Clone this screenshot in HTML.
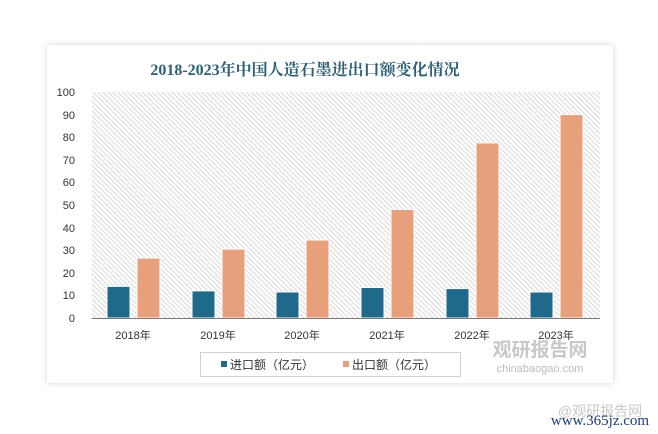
<!DOCTYPE html>
<html><head><meta charset="utf-8"><style>
html,body{margin:0;padding:0;background:#fff;}
svg{display:block;}
text{font-family:"Liberation Sans","Noto Sans CJK SC",sans-serif;}
</style></head><body>
<svg width="658" height="434" viewBox="0 0 658 434" xmlns="http://www.w3.org/2000/svg">
<defs>
<pattern id="h" width="3.5" height="3.5" patternUnits="userSpaceOnUse" patternTransform="rotate(-45)">
<rect width="3.5" height="3.5" fill="#fff"/><rect width="1.2" height="3.5" fill="#dcdcdc"/>
</pattern>
<filter id="sh" x="-5%" y="-5%" width="110%" height="110%"><feDropShadow dx="0" dy="0" stdDeviation="3" flood-color="#000" flood-opacity="0.18"/></filter>
</defs>
<rect x="47" y="45" width="566" height="338" fill="#fff" filter="url(#sh)"/>
<text x="305" y="75" text-anchor="middle" style="font-family:'Liberation Serif','Noto Serif CJK SC',serif" font-size="16" font-weight="bold" fill="#2c6079">2018-2023年中国人造石墨进出口额变化情况</text>
<rect x="92" y="92" width="508" height="226" fill="url(#h)"/>
<g font-size="11" fill="#333" text-anchor="end">
<text x="75" y="96">100</text><text x="75" y="119">90</text><text x="75" y="141">80</text><text x="75" y="164">70</text><text x="75" y="186">60</text><text x="75" y="209">50</text><text x="75" y="232">40</text><text x="75" y="254">30</text><text x="75" y="277">20</text><text x="75" y="299">10</text><text x="75" y="322">0</text>
</g>
<g stroke="#fff" stroke-width="1">
<rect x="107" y="286.4" width="23" height="31.6" fill="#1f6a8a"/>
<rect x="137" y="258.1" width="23" height="59.9" fill="#e89f7c"/>
<rect x="192" y="290.9" width="23" height="27.1" fill="#1f6a8a"/>
<rect x="222" y="249.1" width="23" height="68.9" fill="#e89f7c"/>
<rect x="276" y="292" width="23" height="26" fill="#1f6a8a"/>
<rect x="306" y="240" width="23" height="78" fill="#e89f7c"/>
<rect x="361" y="287.5" width="23" height="30.5" fill="#1f6a8a"/>
<rect x="391" y="209.5" width="23" height="108.5" fill="#e89f7c"/>
<rect x="446" y="288.6" width="23" height="29.4" fill="#1f6a8a"/>
<rect x="476" y="142.9" width="23" height="175.1" fill="#e89f7c"/>
<rect x="530" y="292" width="23" height="26" fill="#1f6a8a"/>
<rect x="560" y="114.6" width="23" height="203.4" fill="#e89f7c"/>
</g>
<line x1="92" y1="318.5" x2="600" y2="318.5" stroke="#777" stroke-width="1"/>
<g font-size="11" fill="#333" text-anchor="middle">
<text x="133" y="339">2018年</text><text x="218" y="339">2019年</text><text x="302" y="339">2020年</text><text x="387" y="339">2021年</text><text x="472" y="339">2022年</text><text x="556" y="339">2023年</text>
</g>
<rect x="200.5" y="352.5" width="260" height="24" fill="#fff" stroke="#d0d0d0"/>
<rect x="221" y="361" width="6" height="6" fill="#1f6a8a"/>
<text x="230" y="369" font-size="12" fill="#333">进口额（亿元）</text>
<rect x="343" y="361" width="6" height="6" fill="#e89f7c"/>
<text x="352" y="369" font-size="12" fill="#333">出口额（亿元）</text>
<text x="540" y="356" font-size="19" font-weight="bold" fill="#c8c8c8" text-anchor="middle">观研报告网</text>
<text x="540" y="372" font-size="11" fill="#bdbdbd" text-anchor="middle">chinabaogao.com</text>
<text x="600" y="416" font-size="14" fill="#c8c8c8" text-anchor="middle">@观研报告网</text>
<text x="600" y="425" font-size="15" fill="#1a3d8f" text-anchor="middle" style="font-family:'Liberation Serif',serif">www.365jz.com</text>
</svg>
</body></html>
